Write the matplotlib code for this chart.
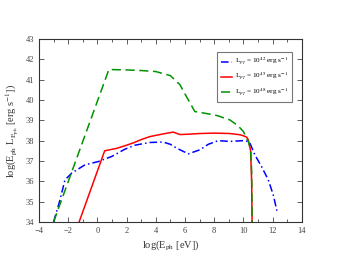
import matplotlib
matplotlib.use("Agg")
import matplotlib.pyplot as plt
from matplotlib.ticker import MultipleLocator

plt.rcParams['font.family'] = ['Liberation Serif', 'DejaVu Serif']
plt.rcParams['mathtext.fontset'] = 'stix'

# L = 1e42 (blue, dash-dot)
x_42 = [-3.0, -2.56, -2.22, -1.76, -0.85, 0.06, 0.98, 1.89, 2.6, 3.6, 4.5, 5.0, 5.43,
        6.23, 7.03, 7.6, 8.28, 9.08, 9.99, 10.34, 10.45, 10.79, 11.25, 11.71, 12.05, 12.3]
y_42 = [34.0, 35.08, 36.07, 36.4, 36.81, 36.97, 37.22, 37.58, 37.78, 37.91, 37.93, 37.82, 37.63,
        37.35, 37.55, 37.82, 38.0, 37.96, 38.0, 37.96, 37.88, 37.3, 36.72, 36.07, 35.33, 34.55]

# L = 1e45 (red, solid)
x_45 = [-1.25, 0.5, 1.32, 1.9, 2.5, 3.0, 3.6, 4.5, 5.2, 5.66, 6.34, 7.0, 8.0, 9.08,
        9.77, 10.0, 10.23, 10.34, 10.5, 10.57, 10.6]
y_45 = [34.0, 37.5, 37.62, 37.75, 37.9, 38.05, 38.2, 38.33, 38.42, 38.3, 38.32, 38.35, 38.37, 38.35,
        38.29, 38.24, 38.17, 38.04, 37.5, 36.0, 34.0]

# L = 1e48 (green, dashed)
x_48 = [-3.0, 0.79, 2.0, 3.0, 4.0, 5.0, 5.66, 6.1, 6.68, 7.2, 8.17, 9.08, 9.64, 10.0,
        10.34, 10.5, 10.57, 10.6]
y_48 = [34.0, 41.5, 41.48, 41.45, 41.4, 41.2, 40.75, 40.17, 39.43, 39.37, 39.24, 39.02, 38.73, 38.45,
        37.96, 37.55, 36.5, 34.0]

labels = [r'L$_{p\gamma}$ = 10$^{42}$ erg s$^{-1}$',
          r'L$_{p\gamma}$ = 10$^{45}$ erg s$^{-1}$',
          r'L$_{p\gamma}$ = 10$^{48}$ erg s$^{-1}$']

fig = plt.figure(figsize=(3.39, 2.62), dpi=100)
ax = fig.add_axes([0.115, 0.153, 0.775, 0.698])

ax.plot(x_42, y_42, color='#0000ff', lw=1.1, linestyle=(0, (5, 2, 1, 2)), label=labels[0])
ax.plot(x_45, y_45, color='#ff0000', lw=1.1, linestyle='-', label=labels[1])
ax.plot(x_48, y_48, color='#009300', lw=1.1, linestyle=(0, (6, 3)), label=labels[2])

ax.set_xlim(-4, 14)
ax.set_ylim(34, 43)
ax.xaxis.set_major_locator(MultipleLocator(2))
ax.xaxis.set_minor_locator(MultipleLocator(1))
ax.yaxis.set_major_locator(MultipleLocator(1))
ax.tick_params(which='both', direction='in', top=True, right=True, labelsize=6,
               colors='#444444', width=0.6)
ax.tick_params(which='major', length=3.5)
ax.tick_params(which='minor', length=2)
for s in ax.spines.values():
    s.set_linewidth(0.8)
    s.set_color('#333333')

ax.set_xlabel(r'log(E$_{\rm ph}$ [eV])', fontsize=7.5, color='#333333', labelpad=2)
ax.set_ylabel(r'log(E$_{\rm ph}$ L$_{\rm E_{ph}}$ [erg s$^{-1}$])', fontsize=7.5,
              color='#333333', labelpad=3)

leg = ax.legend(loc='upper right', bbox_to_anchor=(0.964, 0.927), fontsize=5.2,
                frameon=True, fancybox=False, handlelength=1.5, borderpad=0.5,
                labelspacing=0.45, handletextpad=0.5, borderaxespad=0)
leg.get_frame().set_edgecolor('#555555')
leg.get_frame().set_linewidth(0.8)

fig.savefig('out.png', dpi=100)
